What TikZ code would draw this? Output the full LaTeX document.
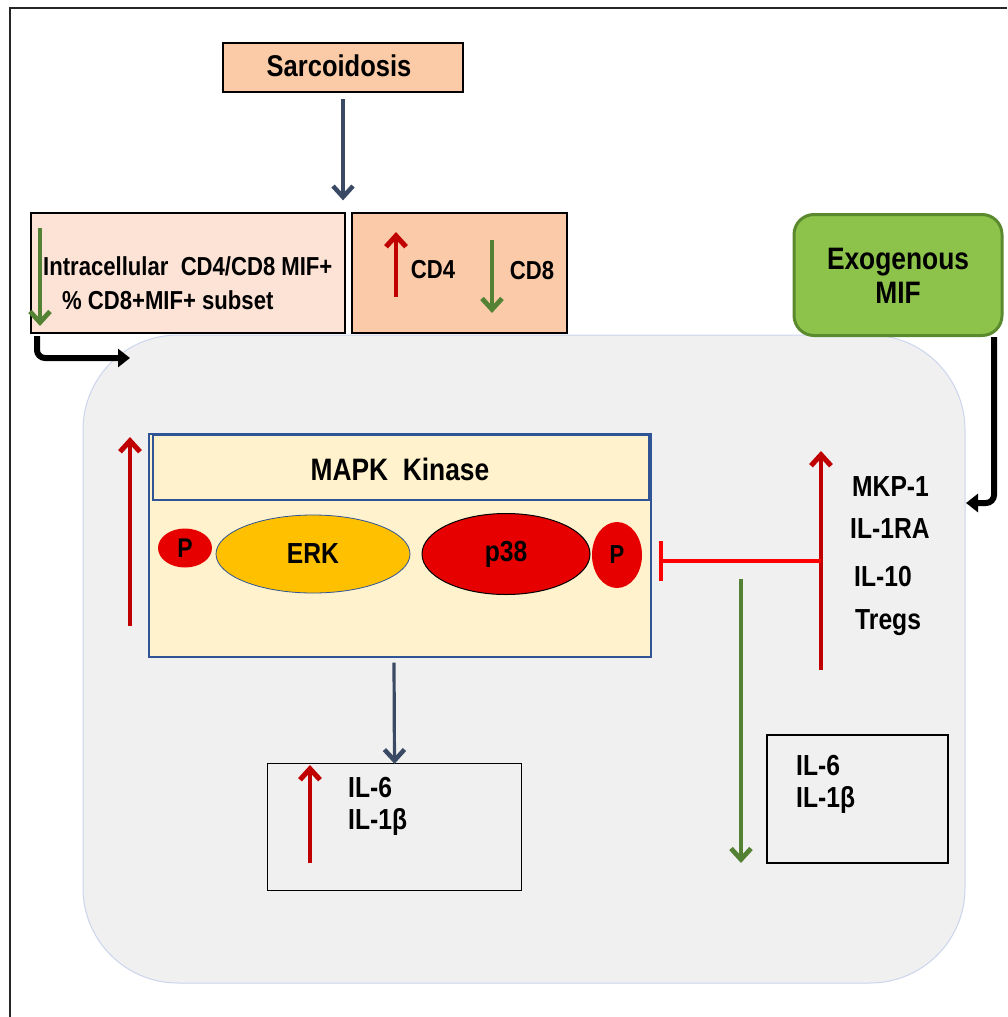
\documentclass[tikz,border=0pt]{standalone}
\usepackage{fontspec}
\newfontfamily\af[FakeStretch=0.85]{Liberation Sans}
\usetikzlibrary{arrows.meta,shapes.geometric,calc}
\definecolor{peach}{HTML}{FBCBA7}
\definecolor{lpeach}{HTML}{FDE2D6}
\definecolor{peach2}{HTML}{FBCAA8}
\definecolor{mifg}{HTML}{8DC24B}
\definecolor{mifb}{HTML}{5B8A2E}
\definecolor{cellf}{HTML}{F0F0F0}
\definecolor{celld}{HTML}{CCD5EE}
\definecolor{mapkf}{HTML}{FFF2CC}
\definecolor{mapkd}{HTML}{2F5597}
\definecolor{erkf}{HTML}{FFC000}
\definecolor{redf}{HTML}{E60000}
\definecolor{darkred}{HTML}{C00000}
\definecolor{dgreen}{HTML}{548235}
\definecolor{slate}{HTML}{3A4A64}
\tikzset{
  lbl/.style={font=\af\bfseries\fontsize{26}{30}\selectfont, inner sep=0pt},
  big/.style={font=\af\bfseries\fontsize{29}{34}\selectfont},
  boxn/.style={draw=black, line width=1.3pt, inner sep=0pt},
  barb/.style={-{Straight Barb[length=11pt,width=20pt,line width=0pt 1.4]}},
  darr/.style={draw=slate, line width=3.2pt, barb},
  redarr/.style={draw=darkred, line width=3.6pt, barb},
  grnarr/.style={draw=dgreen, line width=3.4pt, barb},
  bigarr/.style={draw=black, line width=6pt, rounded corners=8pt, -{Triangle[length=12pt,width=18pt]}},
  oval/.style={ellipse, inner sep=0pt},
}
\begin{document}
\begin{tikzpicture}[x=1pt,y=-1pt]
\useasboundingbox (0,0) rectangle (1007,1017);
\fill[white] (0,0) rectangle (1007,1017);
% outer frame (left and top only)
\draw[line width=2pt, black!85] (10,1017) -- (10,8) -- (1007,8);

% cell background
\node[draw=celld, fill=cellf, line width=1pt, rounded corners=95pt, minimum width=882pt, minimum height=648pt, inner sep=0pt] (cell) at (524,659) {};

% top boxes
\node[boxn, line width=2.2pt, fill=peach, minimum width=240pt, minimum height=49pt] (sarc) at (343,67.5) {};
\node[lbl, font=\af\bfseries\fontsize{30}{34}\selectfont] (sarct) at (339,66) {Sarcoidosis};

\node[boxn, fill=lpeach, minimum width=314pt, minimum height=120pt] (lbox) at (188,273) {};
\node[boxn, fill=peach2, minimum width=215pt, minimum height=120pt] (rbox) at (459.5,273) {};

\node[lbl, anchor=west] (intra) at (43,266) {Intracellular\ \ CD4/CD8 MIF+};
\node[lbl, anchor=west] (subset) at (62,300) {\% CD8+MIF+ subset};
\coordinate (g1a) at (40,228); \coordinate (g1b) at (40,326);
\draw[grnarr] (g1a) -- (g1b);

\coordinate (r1a) at (396,297); \coordinate (r1b) at (396,232);
\draw[redarr] (r1a) -- (r1b);
\node[lbl] (cd4) at (433,270) {CD4};
\coordinate (g2a) at (492,240); \coordinate (g2b) at (492,313);
\draw[grnarr] (g2a) -- (g2b);
\node[lbl] (cd8) at (532,271) {CD8};

\draw[darr] ($(sarc.south)+(0,6)$) -- ($(lbox.north -| sarc.south)+(0,-12)$);

% exogenous MIF
\node[draw=mifb, fill=mifg, line width=3pt, rounded corners=20pt, minimum width=208pt, minimum height=121pt, inner sep=0pt] (exo) at (898,275) {};
\node[lbl, font=\af\bfseries\fontsize{31}{34}\selectfont, align=center] (exot) at (898,276) {Exogenous\\MIF};

% big elbow arrows
\coordinate (e1a) at (37,336); \coordinate (e1b) at (37,358); \coordinate (e1c) at (130,358);
\draw[bigarr] (e1a) -- (e1b) -- (e1c);
\coordinate (e2a) at (994,337); \coordinate (e2b) at (994,503); \coordinate (e2c) at (966,503);
\draw[bigarr] (e2a) -- (e2b) -- (e2c);

% MAPK box
\node[draw=mapkd, fill=mapkf, line width=1.3pt, minimum width=502pt, minimum height=223pt, inner sep=0pt] (mapk) at (400,545.5) {};
\node[draw=mapkd, fill=mapkf, line width=1.3pt, minimum width=496pt, minimum height=65pt, inner sep=0pt] (hdr) at (401,467.5) {};
\node[lbl, font=\af\bfseries\fontsize{31}{34}\selectfont] (mapkt) at (400,469) {MAPK\ \ Kinase};

\node[oval, fill=redf, minimum width=54pt, minimum height=39pt] (p1) at (185,548) {};
\node[lbl, font=\af\bfseries\fontsize{27}{30}\selectfont] at (p1) {P};
\node[oval, draw=mapkd, line width=0.8pt, fill=erkf, minimum width=194pt, minimum height=78pt] (erk) at (313,554) {};
\node[lbl, font=\af\bfseries\fontsize{29}{32}\selectfont] at (erk) {ERK};
\node[oval, draw=black, line width=1pt, fill=redf, minimum width=168pt, minimum height=81pt] (p38) at (506,554) {};
\node[lbl, font=\af\bfseries\fontsize{29}{32}\selectfont] at (p38) {p38};
\node[oval, fill=redf, minimum width=50pt, minimum height=66pt] (p2) at (617,555) {};
\node[lbl, font=\af\bfseries\fontsize{26}{30}\selectfont] at (p2) {P};

% red up arrow left of MAPK
\coordinate (r2a) at (130,626); \coordinate (r2b) at (130,437);
\draw[redarr] (r2a) -- (r2b);

% right side
\coordinate (r3a) at (821,670); \coordinate (r3b) at (821,451);
\draw[redarr] (r3a) -- (r3b);
\coordinate (inhS) at (821,561); \coordinate (inhE) at (659,561);
\draw[draw=red, line width=3.6pt, -{Bar[width=40pt,line width=3.6pt]}] (inhS) -- (inhE);
\node[lbl, anchor=west, big] (mkp) at (852,487) {MKP-1};
\node[lbl, anchor=west, big] (il1ra) at (850,529) {IL-1RA};
\node[lbl, anchor=west, big] (il10) at (854,577) {IL-10};
\node[lbl, anchor=west, big] (tregs) at (855,623) {Tregs};

\coordinate (g3a) at (741,579); \coordinate (g3b) at (741,863);
\draw[grnarr] (g3a) -- (g3b);

% bottom boxes
\node[boxn, minimum width=254pt, minimum height=127pt] (il6a) at (394.5,827) {};
\draw[darr] ($(mapk.south)+(-6,5)$) -- ($(il6a.north)+(0,1)$);
\coordinate (r4a) at (310,863); \coordinate (r4b) at (310,765);
\draw[redarr] (r4a) -- (r4b);
\node[lbl, anchor=west, big] (il6at) at (348,788) {IL-6};
\node[lbl, anchor=west, big] (il1at) at (348,822) {IL-1β};

\node[boxn, minimum width=181pt, minimum height=128pt] (il6b) at (857.5,799) {};
\node[lbl, anchor=west, big] (il6bt) at (796,766) {IL-6};
\node[lbl, anchor=west, big] (il1bt) at (796,800) {IL-1β};
\end{tikzpicture}
\end{document}
